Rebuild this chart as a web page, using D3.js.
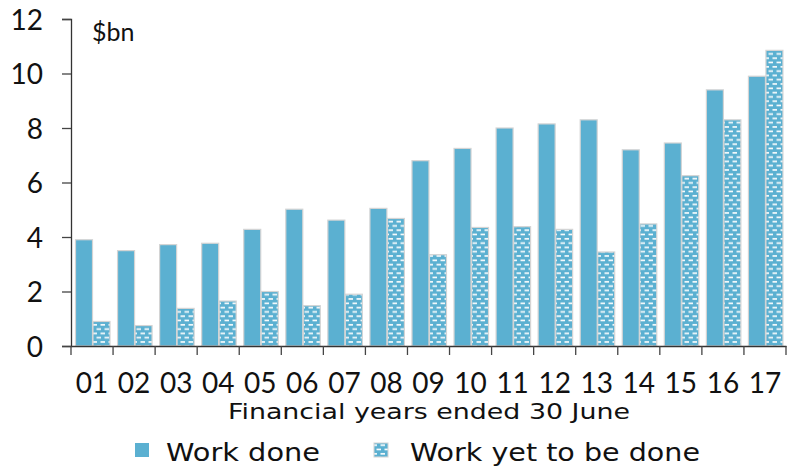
<!DOCTYPE html>
<html><head><meta charset="utf-8">
<script src="https://cdn.jsdelivr.net/npm/d3@7"></script>
<style>body{margin:0;background:#fff;} text{font-family:"Lato","DejaVu Sans",sans-serif;fill:#111;}</style>
</head><body><svg id="c" width="787" height="468"></svg>
<script>
const categories = ["01","02","03","04","05","06","07","08","09","10","11","12","13","14","15","16","17"];
const workDone = [3.9,3.5,3.72,3.77,4.28,5.02,4.62,5.05,6.8,7.25,8.0,8.15,8.3,7.2,7.45,9.4,9.9];
const workYet = [0.9,0.75,1.38,1.65,2.0,1.48,1.9,4.68,3.35,4.35,4.38,4.28,3.45,4.48,6.25,8.3,10.85];
const yTicks = [0,2,4,6,8,10,12];
const seriesNames = ["Work done","Work yet to be done"];

const svg = d3.select("#c");
const blue = "#5bb0d1";
const defs = svg.append("defs");
const pat = defs.append("pattern").attr("id","brick").attr("patternUnits","userSpaceOnUse")
  .attr("width",8).attr("height",8.6);
pat.append("rect").attr("width",8).attr("height",8.6).attr("fill",blue);
pat.append("rect").attr("x",0.5).attr("y",1.5).attr("width",4.5).attr("height",1.6).attr("fill","#fff");
pat.append("rect").attr("x",4.5).attr("y",5.8).attr("width",4.5).attr("height",1.6).attr("fill","#fff");
pat.append("rect").attr("x",-3.5).attr("y",5.8).attr("width",4.5).attr("height",1.6).attr("fill","#fff");

const x = d3.scaleBand().domain(categories).range([71,786]).paddingInner(0).paddingOuter(0);
const y = d3.scaleLinear().domain([0,12]).range([346,19]);
const bw = 17;

const g = svg.append("g");
g.selectAll("rect.done").data(categories).join("rect").attr("class","done")
  .attr("x",d=>x(d)+4.5).attr("width",bw)
  .attr("y",(d,i)=>y(workDone[i])).attr("height",(d,i)=>y(0)-y(workDone[i]))
  .attr("fill",blue).attr("stroke","#d4d4d4").attr("stroke-width",1.2);
g.selectAll("rect.yet").data(categories).join("rect").attr("class","yet")
  .attr("x",d=>x(d)+4.5+bw+0.5).attr("width",bw)
  .attr("y",(d,i)=>y(workYet[i])).attr("height",(d,i)=>y(0)-y(workYet[i]))
  .attr("fill","url(#brick)").attr("stroke","#d4d4d4").attr("stroke-width",1.2);

// y axis
const ya = svg.append("g").attr("transform","translate(71,0)")
  .call(d3.axisLeft(y).tickValues(yTicks).tickSize(9).tickPadding(19));
ya.select(".domain").attr("stroke","#333").attr("stroke-width",1.3);
ya.selectAll(".tick line").attr("stroke","#444").attr("stroke-width",1.3);
ya.selectAll(".tick text").style("font-size","28px").attr("dy","0.36em").attr("fill","#111");

// x axis
const xa = svg.append("g").attr("transform","translate(0,346)")
  .call(d3.axisBottom(x).tickSize(0).tickPadding(0));
xa.select(".domain").attr("stroke","#333").attr("stroke-width",1.3);
xa.selectAll(".tick text").style("font-size","28px").attr("dy",null).attr("y",47).attr("fill","#111");
svg.append("g").selectAll("line").data(categories.concat(["end"])).join("line")
  .attr("x1",(d,i)=>i<categories.length?x(d):x.range()[1]).attr("x2",(d,i)=>i<categories.length?x(d):x.range()[1])
  .attr("y1",346).attr("y2",355).attr("stroke","#444").attr("stroke-width",1.3);

svg.append("text").attr("x",92).attr("y",41).style("font-size","25px").text("$bn");
svg.append("text").attr("x",228).attr("y",419).style("font-family","DejaVu Sans").style("font-size","21px")
  .attr("textLength",402).attr("lengthAdjust","spacingAndGlyphs")
  .text("Financial years ended 30 June");

// legend
const leg = svg.append("g");
leg.append("rect").attr("x",135).attr("y",443).attr("width",14).attr("height",14).attr("fill",blue);
leg.append("text").attr("x",166).attr("y",461).style("font-family","DejaVu Sans").style("font-size","25px")
  .attr("textLength",154).attr("lengthAdjust","spacingAndGlyphs").text(seriesNames[0]);
leg.append("rect").attr("x",374).attr("y",443).attr("width",14).attr("height",14).attr("fill","url(#brick)").attr("stroke","#d4d4d4");
leg.append("text").attr("x",410).attr("y",461).style("font-family","DejaVu Sans").style("font-size","25px")
  .attr("textLength",290).attr("lengthAdjust","spacingAndGlyphs").text(seriesNames[1]);
</script></body></html>
